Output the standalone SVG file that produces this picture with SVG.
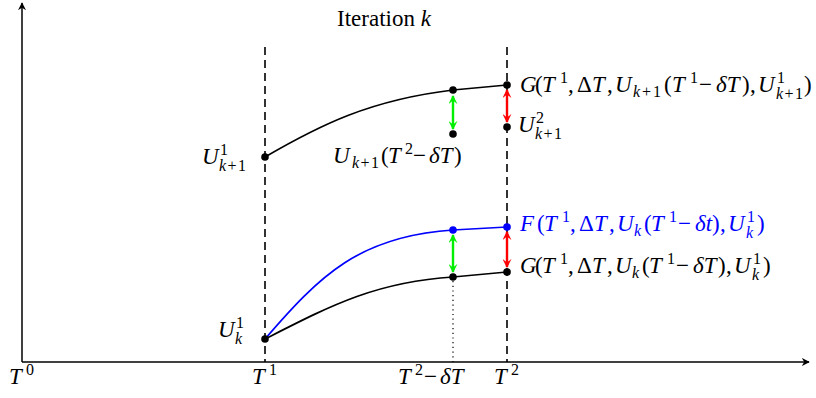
<svg xmlns="http://www.w3.org/2000/svg" width="816" height="398" viewBox="0 0 816 398">
<style>
text{font-family:"Liberation Serif","DejaVu Serif",serif;font-size:23px;fill:#000}
.i{font-style:italic}
.s{font-size:16px}
.b text{fill:#0000ff}
.ax{stroke:#000;stroke-width:1.5;fill:none}
.dash{stroke:#000;stroke-width:1.6;stroke-dasharray:8,5;fill:none}
.dot{stroke:#000;stroke-width:1.2;stroke-dasharray:1.2,3.5;fill:none}
.cv{stroke:#000;stroke-width:1.7;fill:none}
.bl{stroke:#0000ff;stroke-width:1.7;fill:none}
.g{stroke:#00ee00;stroke-width:2.4;fill:none}
.r{stroke:#ff0000;stroke-width:2.4;fill:none}
.pt{fill:#000}
.pb{fill:#0000ff}
</style>
<defs>
<marker id="ak" viewBox="0 0 10 10" refX="9" refY="5" markerWidth="8" markerHeight="8" markerUnits="userSpaceOnUse" orient="auto"><path d="M0,0 L10,5 L0,10 L3,5 z" fill="#000"/></marker>
<marker id="ag" viewBox="0 0 10 10" refX="9" refY="5" markerWidth="9" markerHeight="9" markerUnits="userSpaceOnUse" orient="auto-start-reverse"><path d="M0,0 L10,5 L0,10 L4,5 z" fill="#00ee00"/></marker>
<marker id="ar" viewBox="0 0 10 10" refX="9" refY="5" markerWidth="9" markerHeight="9" markerUnits="userSpaceOnUse" orient="auto-start-reverse"><path d="M0,0 L10,5 L0,10 L4,5 z" fill="#ff0000"/></marker>
</defs>
<g id="axes">
<line class="ax" x1="22" y1="362" x2="22" y2="3" marker-end="url(#ak)"/>
<line class="ax" x1="22" y1="362" x2="809" y2="362" marker-end="url(#ak)"/>
</g>
<g id="connectors">
<line class="dash" x1="265" y1="47" x2="265" y2="362"/>
<line class="dash" x1="507" y1="47" x2="507" y2="362"/>
<line class="dot" x1="453" y1="281" x2="453" y2="362"/>
<path class="cv" d="M265,157 C320,125 370,100 453,90 L507,85"/>
<path class="bl" d="M265,339 C320,275 360,236 453,230 L507,227"/>
<path class="cv" d="M265,339 C330,306 375,282 453,277 L507,272"/>
<line class="g" x1="453" y1="96" x2="453" y2="129" marker-start="url(#ag)" marker-end="url(#ag)"/>
<line class="g" x1="453" y1="235" x2="453" y2="272" marker-start="url(#ag)" marker-end="url(#ag)"/>
<line class="r" x1="507" y1="90" x2="507" y2="122" marker-start="url(#ar)" marker-end="url(#ar)"/>
<line class="r" x1="507" y1="232" x2="507" y2="267" marker-start="url(#ar)" marker-end="url(#ar)"/>
</g>
<g id="points">
<circle class="pt" cx="265" cy="157" r="3.8"/>
<circle class="pt" cx="453" cy="90" r="3.8"/>
<circle class="pt" cx="453" cy="134" r="3.8"/>
<circle class="pt" cx="507" cy="85" r="3.8"/>
<circle class="pt" cx="507" cy="127" r="3.8"/>
<circle class="pt" cx="265" cy="339" r="3.8"/>
<circle class="pb" cx="453" cy="230" r="3.8"/>
<circle class="pb" cx="507" cy="227" r="3.8"/>
<circle class="pt" cx="453" cy="277" r="3.8"/>
<circle class="pt" cx="507" cy="272" r="3.8"/>
</g>
<g id="title"><text x="337" y="26">Iteration <tspan class="i">k</tspan></text></g>
<g id="label-uk1-1">
<text x="202" y="164" class="i">U</text>
<text x="220" y="155" class="s">1</text>
<text x="219" y="171" class="s i" textLength="27" lengthAdjust="spacing">k<tspan font-style="normal">+1</tspan></text>
</g>
<g id="label-uk1-t2">
<text x="333" y="163" class="i">U</text>
<text x="352" y="168" class="s i" textLength="27" lengthAdjust="spacing">k<tspan font-style="normal">+1</tspan></text>
<text x="381" y="163">(</text>
<text x="388" y="163" class="i">T</text>
<text x="405" y="154" class="s">2</text>
<text x="413" y="163">−</text>
<text x="429" y="163" class="i">δT</text>
<text x="454" y="163">)</text>
</g>
<g id="label-g-top">
<text x="520" y="92" class="i">G</text>
<text x="535" y="92">(</text>
<text x="542" y="92" class="i">T</text>
<text x="560" y="83" class="s">1</text>
<text x="568" y="92">,</text>
<text x="577" y="92">Δ</text>
<text x="592" y="92" class="i">T</text>
<text x="607" y="92">,</text>
<text x="615" y="92" class="i">U</text>
<text x="633" y="97" class="s i" textLength="28" lengthAdjust="spacing">k<tspan font-style="normal">+1</tspan></text>
<text x="664" y="92">(</text>
<text x="672" y="92" class="i">T</text>
<text x="690" y="83" class="s">1</text>
<text x="699" y="92">−</text>
<text x="716" y="92" class="i">δT</text>
<text x="742" y="92">)</text>
<text x="750" y="92">,</text>
<text x="758" y="92" class="i">U</text>
<text x="777" y="83" class="s">1</text>
<text x="776" y="99" class="s i" textLength="27" lengthAdjust="spacing">k<tspan font-style="normal">+1</tspan></text>
<text x="804" y="92">)</text>
</g>
<g id="label-u2">
<text x="518" y="132" class="i">U</text>
<text x="536" y="123" class="s">2</text>
<text x="535" y="139" class="s i" textLength="27" lengthAdjust="spacing">k<tspan font-style="normal">+1</tspan></text>
</g>
<g id="label-f" class="b">
<text x="520" y="231" class="i">F</text>
<text x="537" y="231">(</text>
<text x="544" y="231" class="i">T</text>
<text x="562" y="222" class="s">1</text>
<text x="570" y="231">,</text>
<text x="579" y="231">Δ</text>
<text x="594" y="231" class="i">T</text>
<text x="609" y="231">,</text>
<text x="617" y="231" class="i">U</text>
<text x="634" y="236" class="s i">k</text>
<text x="644" y="231">(</text>
<text x="651" y="231" class="i">T</text>
<text x="669" y="222" class="s">1</text>
<text x="678" y="231">−</text>
<text x="695" y="231" class="i">δt</text>
<text x="712" y="231">)</text>
<text x="720" y="231">,</text>
<text x="728" y="231" class="i">U</text>
<text x="747" y="222" class="s">1</text>
<text x="746" y="238" class="s i">k</text>
<text x="757" y="231">)</text>
</g>
<g id="label-g-bottom">
<text x="520" y="273" class="i">G</text>
<text x="535" y="273">(</text>
<text x="542" y="273" class="i">T</text>
<text x="560" y="264" class="s">1</text>
<text x="568" y="273">,</text>
<text x="577" y="273">Δ</text>
<text x="592" y="273" class="i">T</text>
<text x="607" y="273">,</text>
<text x="615" y="273" class="i">U</text>
<text x="632" y="278" class="s i">k</text>
<text x="642" y="273">(</text>
<text x="649" y="273" class="i">T</text>
<text x="667" y="264" class="s">1</text>
<text x="676" y="273">−</text>
<text x="693" y="273" class="i">δT</text>
<text x="718" y="273">)</text>
<text x="726" y="273">,</text>
<text x="734" y="273" class="i">U</text>
<text x="753" y="264" class="s">1</text>
<text x="752" y="280" class="s i">k</text>
<text x="763" y="273">)</text>
</g>
<g id="label-uk-1">
<text x="218" y="337" class="i">U</text>
<text x="236" y="328" class="s">1</text>
<text x="235" y="344" class="s i">k</text>
</g>
<g id="ticks">
<text x="9" y="384" class="i">T</text><text x="26" y="375" class="s">0</text>
<text x="252" y="384" class="i">T</text><text x="269" y="375" class="s">1</text>
<text x="398" y="384" class="i">T</text><text x="415" y="375" class="s">2</text>
<text x="424" y="384">−</text><text x="440" y="384" class="i">δT</text>
<text x="494" y="384" class="i">T</text><text x="511" y="375" class="s">2</text>
</g>
</svg>
